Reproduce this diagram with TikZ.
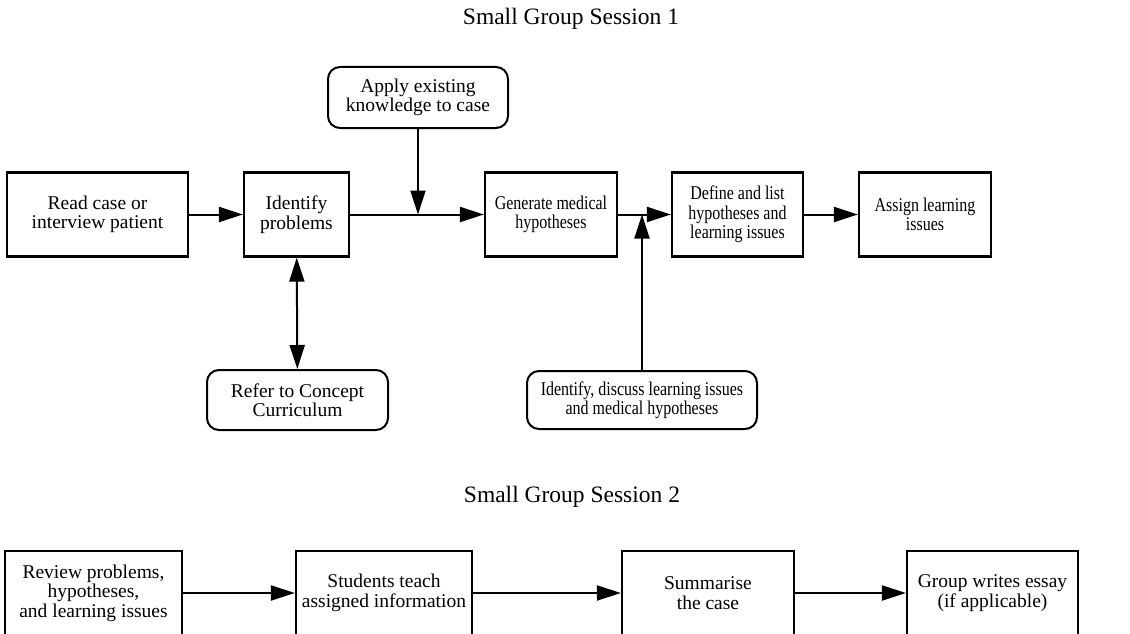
\documentclass[tikz,border=0pt]{standalone}
\usepackage{fontspec}
\setmainfont{Liberation Serif}
\newfontfamily\condfont[FakeStretch=0.82]{Liberation Serif}
\usetikzlibrary{arrows.meta}
\begin{document}
\begin{tikzpicture}[x=1pt,y=-1pt,
  every node/.style={font=\fontsize{19.5}{19.5}\selectfont, align=center, inner sep=0pt},
  cond/.style={font=\condfont\fontsize{19.5}{19.5}\selectfont},
  box/.style={draw, line width=2.2pt, rectangle, minimum height=84pt},
  rbox/.style={draw, line width=2pt, rectangle, rounded corners=12pt},
  conn/.style={line width=2pt, -{Triangle[length=24pt,width=15pt]}},
  dconn/.style={line width=2pt, {Triangle[length=24pt,width=15pt]}-{Triangle[length=24pt,width=15pt]}},
  title/.style={font=\fontsize{23.5}{24}\selectfont, anchor=base}]
\useasboundingbox (0,0) rectangle (1130,634);
\clip (0,0) rectangle (1130,634);
% titles
\node[title] (t1) at (571,25) {Small Group Session 1};
\node[title] (t2) at (572,502) {Small Group Session 2};
% session 1
\node[box, minimum width=181pt] (read) at (97.5,214.5) {Read case or\\interview patient};
\node[box, minimum width=105pt] (ident) at (296.5,214.5) {Identify\\problems};
\node[box, cond, minimum width=132pt] (gen) at (551,214.5) {Generate medical\\hypotheses};
\node[box, cond, minimum width=131pt] (def) at (737.5,214.5) {Define and list\\hypotheses and\\learning issues};
\node[box, cond, minimum width=132pt] (assign) at (925,214.5) {Assign learning\\issues};
\node[rbox, minimum width=180pt, minimum height=61pt] (apply) at (418,97.5) {Apply existing\\knowledge to case};
\node[rbox, minimum width=181pt, minimum height=60pt] (refer) at (297.5,400) {Refer to Concept\\Curriculum};
\node[rbox, cond, minimum width=230pt, minimum height=58pt] (disc) at (642,400) {Identify, discuss learning issues\\and medical hypotheses};
\coordinate (j1) at (apply.south |- ident.east);
\coordinate (j2) at (disc.north |- gen.east);
\draw[conn] (read) -- (ident);
\draw[conn] (ident) -- (gen);
\draw[conn] (apply) -- (j1);
\draw[conn] (gen) -- (def);
\draw[conn] (disc) -- (j2);
\draw[conn] (def) -- (assign);
\draw[dconn] (ident) -- (refer);
% session 2
\node[box, minimum width=177pt] (b1) at (93.5,593) {Review problems,\\hypotheses,\\and learning issues};
\node[box, minimum width=176pt] (b2) at (384,593) {Students teach\\assigned information};
\node[box, minimum width=172pt] (b3) at (708,593) {Summarise\\the case};
\node[box, minimum width=171pt] (b4) at (992.5,593) {Group writes essay\\(if applicable)};
\draw[conn] (b1) -- (b2);
\draw[conn] (b2) -- (b3);
\draw[conn] (b3) -- (b4);
\end{tikzpicture}
\end{document}
